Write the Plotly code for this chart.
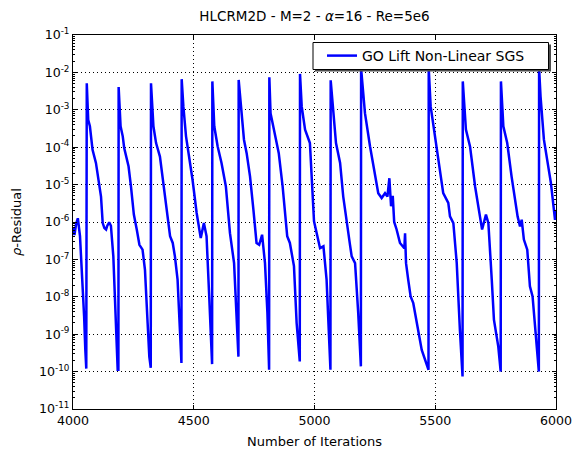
import plotly.graph_objects as go

# Iteration numbers and residual values
iters = [
    4000, 4006, 4013, 4020, 4029, 4037, 4046, 4051, 4055,
    4057, 4063, 4070, 4081, 4095, 4109, 4116, 4123, 4130, 4137, 4142, 4150, 4157, 4167, 4175, 4185, 4188,
    4189, 4197, 4206, 4212, 4230, 4240, 4252, 4264, 4275, 4288, 4298, 4309, 4316, 4322,
    4323, 4333, 4344, 4360, 4374, 4388, 4402, 4413, 4422, 4433, 4440, 4449,
    4450, 4457, 4468, 4482, 4495, 4512, 4529, 4542, 4553, 4564, 4576,
    4577, 4585, 4599, 4615, 4633, 4650, 4667, 4685,
    4686, 4708, 4719, 4733, 4747, 4760, 4771, 4783, 4795, 4805, 4812,
    4813, 4818, 4834, 4852, 4868, 4887, 4898, 4915, 4926, 4939,
    4940, 4947, 4961, 4981, 4998, 5012, 5023, 5037, 5050, 5066,
    5067, 5089, 5106, 5119, 5136, 5147, 5154, 5168, 5181, 5192,
    5193, 5209, 5230, 5264, 5278, 5292, 5302, 5310, 5317, 5324, 5330, 5340, 5354, 5372, 5375, 5379, 5388, 5398, 5409, 5423, 5444, 5472,
    5473, 5481, 5506, 5533, 5554, 5561, 5575, 5589, 5602, 5613,
    5614, 5627, 5644, 5665, 5685, 5694, 5710, 5720, 5734, 5743, 5761, 5771,
    5772, 5782, 5798, 5816, 5841, 5851, 5858, 5867, 5881, 5892, 5903, 5917, 5929,
    5930, 5936, 5950, 5979, 5996, 6000,
]
log_res = [
    -6.15, -6.35, -6.05, -5.9, -6.38, -7.28, -8.52, -9.42, -9.92,
    -2.29, -3.27, -3.44, -4.07, -4.42, -4.96, -5.32, -6.03, -6.16, -6.2, -6.1, -6.01, -6.1, -6.92, -8.43, -9.95, -9.95,
    -2.39, -3.44, -3.71, -4.02, -4.51, -5.05, -5.8, -6.2, -6.61, -6.74, -7.28, -8.7, -9.6, -9.9,
    -2.29, -3.44, -3.89, -4.25, -4.96, -5.67, -6.38, -6.56, -6.92, -7.54, -8.43, -9.77,
    -2.18, -2.91, -3.71, -4.25, -4.87, -5.76, -6.43, -6.03, -6.38, -7.99, -9.8,
    -2.24, -3.44, -3.98, -4.42, -5.05, -6.3, -7.1, -9.6,
    -2.2, -3.8, -4.16, -4.78, -5.67, -6.56, -6.61, -6.34, -7.1, -8.43, -9.95,
    -2.13, -3.09, -3.62, -4.16, -5.05, -6.38, -6.56, -7.18, -8.7, -9.73,
    -2.04, -2.91, -3.53, -3.89, -5.98, -6.38, -6.7, -6.65, -7.54, -9.95,
    -2.21, -3.89, -4.42, -5.32, -6.2, -6.61, -6.92, -7.1, -8.43, -9.86,
    -1.9, -3.09, -3.98, -5.23, -5.36, -5.23, -5.32, -4.83, -5.58, -5.3, -6.0, -6.2, -6.56, -6.7, -6.3, -7.1, -7.54, -7.99, -8.17, -8.7, -9.42, -9.95,
    -1.9, -2.91, -3.98, -5.23, -5.49, -5.85, -6.03, -7.1, -8.88, -10.13,
    -2.24, -3.53, -3.98, -5.05, -5.85, -6.2, -5.8, -6.03, -7.54, -8.61, -9.33, -10.0,
    -2.24, -3.44, -3.89, -4.78, -5.85, -6.12, -5.94, -6.47, -6.74, -7.72, -7.99, -9.06, -10.0,
    -1.9, -2.64, -3.8, -4.96, -5.94, -5.7,
]
residual = [10 ** v for v in log_res]

series_name = "GO Lift Non-Linear SGS"
x_ticks = [4000, 4500, 5000, 5500, 6000]
y_exps = list(range(-11, 0))
y_ticks = [10 ** e for e in y_exps]
y_ticktext = ["10<sup>%d</sup>" % e for e in y_exps]

# plot area in pixels
L, R, T, B = 73, 556, 35, 409
W, H = R - L, B - T


def px_x(p):
    return (p - L) / W


def px_y(p):
    return (B - p) / H


fig = go.Figure()
fig.add_trace(go.Scatter(x=iters, y=residual, mode="lines", name=series_name,
                         line=dict(color="#0000ff", width=2.5)))

font = "DejaVu Sans"
axis_common = dict(showline=True, linecolor="black", linewidth=1, mirror="ticks",
                   ticks="inside", tickcolor="black", ticklen=4, automargin=False,
                   showgrid=True, gridcolor="black", griddash="1px,3px", gridwidth=1,
                   zeroline=False, tickfont=dict(family=font, size=12.6, color="black"))

fig.update_layout(
    width=573, height=456,
    margin=dict(l=L, r=573 - R, t=T, b=456 - B),
    paper_bgcolor="white", plot_bgcolor="white",
    title=dict(text="HLCRM2D - M=2 - <i>α</i>=16 - Re=5e6", x=(L + R) / 2 / 573, xanchor="center",
               y=1 - 16 / 456, yanchor="middle",
               font=dict(family=font, size=13.5, color="black")),
    showlegend=True,
    legend=dict(x=px_x(322), y=px_y(56), xanchor="left", yanchor="middle",
                bgcolor="rgba(0,0,0,0)", borderwidth=0,
                font=dict(family=font, size=14, color="black"),
                itemwidth=30, tracegroupgap=0),
    xaxis=dict(range=[4000, 6000], tickvals=x_ticks, **axis_common,
               title=dict(text="Number of Iterations", standoff=9,
                          font=dict(family=font, size=13, color="black"))),
    yaxis=dict(type="log", range=[-11, -1], tickvals=y_ticks, ticktext=y_ticktext, **axis_common,
               minor=dict(ticks="inside", ticklen=2, tickcolor="black", dtick="D1", showgrid=False)),
)

# y-axis title placed to match the reference
fig.add_annotation(text="<i>ρ</i>-Residual", xref="paper", yref="paper",
                   x=(16 - L) / W, y=px_y(222), xanchor="center", yanchor="middle",
                   textangle=-90, showarrow=False,
                   font=dict(family=font, size=13, color="black"))

# legend shadow and frame
fig.add_shape(type="rect", xref="paper", yref="paper",
              x0=px_x(315), x1=px_x(551), y0=px_y(71.5), y1=px_y(44.5),
              fillcolor="#4d4d4d", line=dict(width=0), layer="above")
fig.add_shape(type="rect", xref="paper", yref="paper",
              x0=px_x(313), x1=px_x(548.5), y0=px_y(69.5), y1=px_y(42.5),
              fillcolor="white", line=dict(color="black", width=1), layer="above")

fig.write_html("out.html")
